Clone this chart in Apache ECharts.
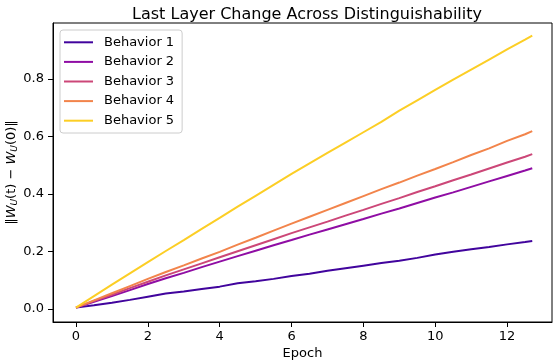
<!DOCTYPE html>
<html>
<head>
<meta charset="utf-8">
<script src="https://cdn.jsdelivr.net/npm/echarts@6/dist/echarts.min.js"></script>
<style>
  html, body { margin: 0; padding: 0; background: #fff; }
  #chart { width: 556px; height: 364px; }
</style>
</head>
<body>
<div id="chart"></div>
<script>
const epochs = [0, 0.5, 1, 1.5, 2, 2.5, 3, 3.5, 4, 4.5, 5, 5.5, 6, 6.5, 7, 7.5, 8, 8.5, 9, 9.5, 10, 10.5, 11, 11.5, 12, 12.5, 12.7];

const behavior1 = [0.005, 0.013, 0.022, 0.032, 0.043, 0.054, 0.061, 0.070, 0.078, 0.090, 0.097, 0.105, 0.115, 0.123, 0.133, 0.142, 0.151, 0.160, 0.168, 0.178, 0.190, 0.199, 0.208, 0.216, 0.225, 0.233, 0.2365];
const behavior2 = [0.005, 0.025, 0.045, 0.066, 0.087, 0.107, 0.126, 0.146, 0.165, 0.184, 0.203, 0.222, 0.240, 0.259, 0.277, 0.295, 0.313, 0.332, 0.350, 0.369, 0.388, 0.406, 0.425, 0.444, 0.463, 0.482, 0.490];
const behavior3 = [0.005, 0.028, 0.050, 0.073, 0.095, 0.117, 0.138, 0.159, 0.180, 0.201, 0.222, 0.243, 0.264, 0.284, 0.304, 0.325, 0.345, 0.366, 0.386, 0.407, 0.427, 0.448, 0.468, 0.489, 0.510, 0.530, 0.539];
const behavior4 = [0.005, 0.030, 0.055, 0.080, 0.105, 0.129, 0.152, 0.176, 0.199, 0.224, 0.248, 0.273, 0.297, 0.321, 0.345, 0.369, 0.393, 0.417, 0.440, 0.464, 0.487, 0.511, 0.536, 0.559, 0.585, 0.608, 0.619];
const behavior5 = [0.005, 0.045, 0.085, 0.124, 0.163, 0.202, 0.240, 0.279, 0.317, 0.356, 0.394, 0.432, 0.470, 0.507, 0.543, 0.579, 0.615, 0.651, 0.690, 0.726, 0.762, 0.798, 0.833, 0.868, 0.903, 0.937, 0.951];

const xTicks = [0, 2, 4, 6, 8, 10, 12];
const yTicks = [0, 0.2, 0.4, 0.6, 0.8];

const names = ["Behavior 1", "Behavior 2", "Behavior 3", "Behavior 4", "Behavior 5"];
const colors = ["#41049d", "#8f0da4", "#cc4778", "#f2844b", "#fcce25"];
const values = [behavior1, behavior2, behavior3, behavior4, behavior5];

const font = "DejaVu Sans";
const chart = echarts.init(document.getElementById("chart"));

chart.setOption({
  animation: false,
  textStyle: { fontFamily: font },
  title: {
    text: "Last Layer Change Across Distinguishability",
    left: 302, top: 2,
    textAlign: "center",
    textStyle: { fontFamily: font, fontSize: 16, fontWeight: "normal", color: "#000" }
  },
  grid: {
    left: 53, right: 4, top: 23, bottom: 42,
    outerBoundsMode: "none",
    containLabel: false,
    show: true, borderColor: "#000", borderWidth: 1, backgroundColor: "transparent"
  },
  legend: {
    orient: "vertical",
    left: 60, top: 30,
    padding: [5, 8, 5, 4],
    itemWidth: 29, itemHeight: 2, itemGap: 5,
    icon: "rect",
    borderColor: "#cccccc", borderWidth: 1, borderRadius: 3,
    backgroundColor: "rgba(255,255,255,0.8)",
    textStyle: { fontFamily: font, fontSize: 13, color: "#000", padding: [0, 0, 0, 6], lineHeight: 14.6 },
    data: names
  },
  xAxis: {
    type: "value",
    min: -0.64, max: 13.25,
    name: "Epoch", nameLocation: "middle", nameGap: 25,
    nameMoveOverlap: false,
    nameTextStyle: { fontFamily: font, fontSize: 13, color: "#000" },
    axisLine: { show: true, onZero: false, lineStyle: { color: "#000" } },
    axisTick: { show: true, inside: false, length: 5, customValues: xTicks, lineStyle: { color: "#000" } },
    axisLabel: { margin: 8, fontFamily: font, fontSize: 13, color: "#000", customValues: xTicks },
    splitLine: { show: false }
  },
  yAxis: {
    type: "value",
    min: -0.045, max: 0.995,
    name: "‖{it|W}{sub|U}(t) − {it|W}{sub|U}(0)‖",
    nameLocation: "middle", nameGap: 34, nameRotate: 90,
    nameMoveOverlap: false,
    nameTextStyle: {
      fontFamily: font, fontSize: 13, color: "#000",
      rich: {
        it: { fontFamily: font, fontSize: 13, fontStyle: "italic", color: "#000" },
        sub: { fontFamily: font, fontSize: 9, fontStyle: "italic", color: "#000", verticalAlign: "bottom", padding: [6, 0, 0, 0] }
      }
    },
    axisLine: { show: true, onZero: false, lineStyle: { color: "#000" } },
    axisTick: { show: true, inside: false, length: 5, customValues: yTicks, lineStyle: { color: "#000" } },
    axisLabel: {
      margin: 9, fontFamily: font, fontSize: 13, color: "#000", customValues: yTicks,
      formatter: v => v.toFixed(1)
    },
    splitLine: { show: false }
  },
  series: names.map((n, i) => ({
    name: n,
    type: "line",
    data: epochs.map((e, j) => [e, values[i][j]]),
    showSymbol: false,
    symbol: "none",
    lineStyle: { color: colors[i], width: 2 },
    itemStyle: { color: colors[i] },
    z: 2 + i
  }))
});
</script>
</body>
</html>
